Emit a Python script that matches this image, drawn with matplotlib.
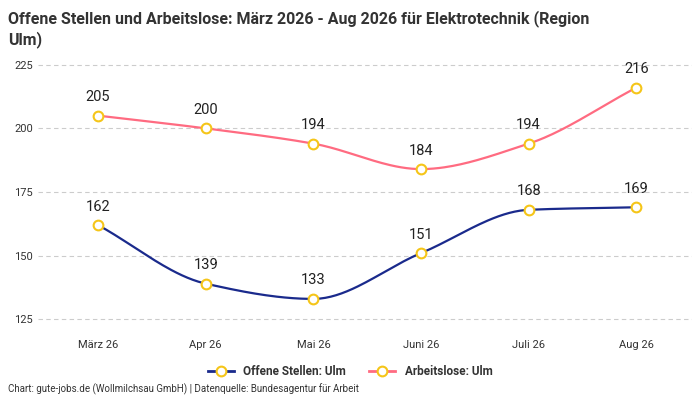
import numpy as np
import matplotlib
matplotlib.use("Agg")
import matplotlib.pyplot as plt

months = ["März 26", "Apr 26", "Mai 26", "Juni 26", "Juli 26", "Aug 26"]
offene = [162, 139, 133, 151, 168, 169]
arbeitslose = [205, 200, 194, 184, 194, 216]

plt.rcParams['font.family'] = ['Roboto', 'DejaVu Sans']

def pchip(x, y, n=200):
    x = np.asarray(x, float); y = np.asarray(y, float)
    h = np.diff(x); d = np.diff(y) / h
    m = np.zeros_like(y)
    for k in range(1, len(y) - 1):
        if d[k-1] * d[k] > 0:
            w1 = 2*h[k] + h[k-1]; w2 = h[k] + 2*h[k-1]
            m[k] = (w1 + w2) / (w1/d[k-1] + w2/d[k])
    m[0] = d[0]; m[-1] = d[-1]
    xs = np.linspace(x[0], x[-1], n); ys = np.empty_like(xs)
    for i, xv in enumerate(xs):
        k = min(np.searchsorted(x, xv, side='right') - 1, len(x) - 2)
        t = (xv - x[k]) / h[k]
        h00 = 2*t**3 - 3*t**2 + 1; h10 = t**3 - 2*t**2 + t
        h01 = -2*t**3 + 3*t**2; h11 = t**3 - t**2
        ys[i] = h00*y[k] + h10*h[k]*m[k] + h01*y[k+1] + h11*h[k]*m[k+1]
    return xs, ys

fig = plt.figure(figsize=(7, 4), dpi=100)
ax = fig.add_axes([0.054, 0.17, 0.935, 0.70])
x = np.arange(len(months))
for vals, col, lab in [(offene, '#1a2a8c', 'Offene Stellen: Ulm'),
                       (arbeitslose, '#ff6b81', 'Arbeitslose: Ulm')]:
    xs, ys = pchip(x, vals)
    ax.plot(xs, ys, color=col, lw=1.6, zorder=2)
    ax.plot(x, vals, 'o', mfc='white', mec='#f5c518', mew=1.5, ms=7, zorder=3)
    ax.plot([], [], color=col, lw=2, marker='o', mfc='white', mec='#f5c518', mew=1.5, ms=7, label=lab)
    for xi, v in zip(x, vals):
        ax.text(xi, v + 4.5, str(v), ha='center', va='bottom', fontsize=10.5, color='#222222')

ax.set_xlim(-0.56, 5.52)
ax.set_ylim(120, 230)
ax.set_yticks([125, 150, 175, 200, 225])
ax.set_xticks(x)
ax.set_xticklabels(months)
ax.grid(axis='y', ls=(0, (4, 3)), color='#cccccc', lw=0.8)
ax.set_axisbelow(True)
for s in ax.spines.values():
    s.set_visible(False)
ax.tick_params(length=0, labelsize=8, colors='#333333')
ax.tick_params(axis='x', pad=6)

fig.text(0.012, 0.975, "Offene Stellen und Arbeitslose: März 2026 - Aug 2026 für Elektrotechnik (Region\nUlm)",
         ha='left', va='top', fontsize=11.5, fontweight='bold', color='#333333', linespacing=1.3)
fig.legend(loc='center', bbox_to_anchor=(0.5, 0.072), ncol=2, frameon=False, fontsize=8.5,
           handlelength=2.2, columnspacing=2)
for t in fig.legends[0].get_texts():
    t.set_fontweight('bold'); t.set_color('#333333')
fig.text(0.012, 0.018, "Chart: gute-jobs.de (Wollmilchsau GmbH) | Datenquelle: Bundesagentur für Arbeit",
         fontsize=7, color='#333333')
fig.savefig('out.png', dpi=100)
